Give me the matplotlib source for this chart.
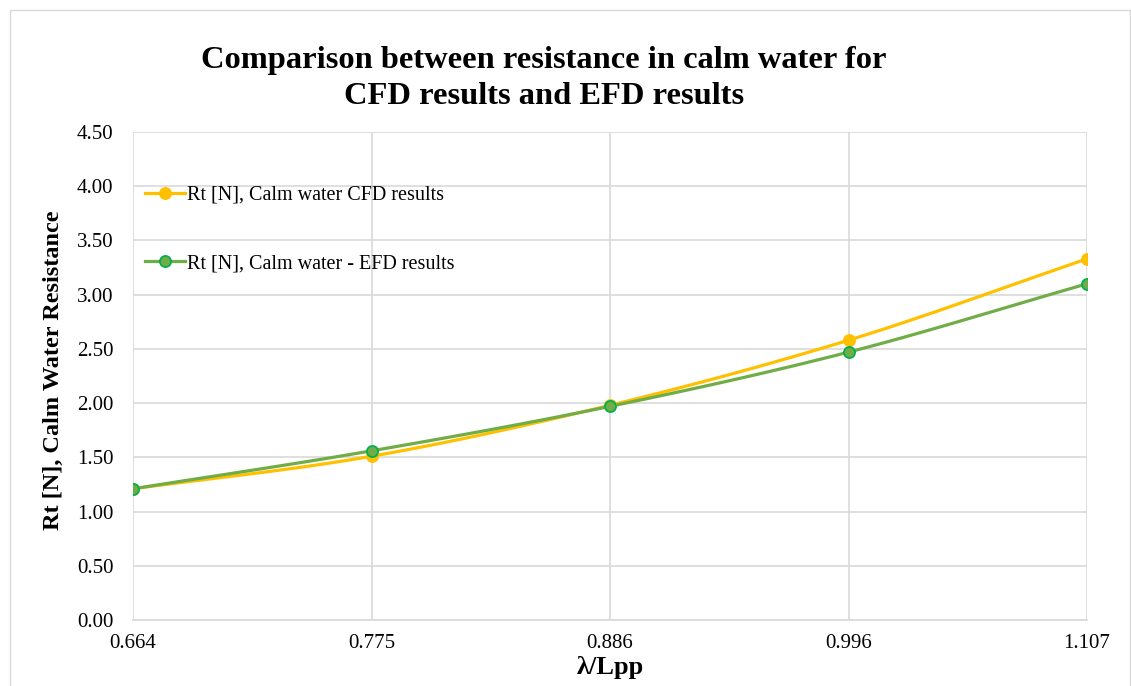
import numpy as np
import matplotlib
matplotlib.use("Agg")
import matplotlib.pyplot as plt

plt.rcParams["font.family"] = ["Liberation Serif", "DejaVu Serif"]

# data
categories = ["0.664", "0.775", "0.886", "0.996", "1.107"]
cfd = [1.21, 1.51, 1.98, 2.58, 3.33]
efd = [1.21, 1.56, 1.97, 2.47, 3.10]


def smooth(xs, ys, n=30, t=0.5):
    # Excel-like smoothed line: Catmull-Rom through the data points
    xs = np.asarray(xs, float); ys = np.asarray(ys, float)
    px = np.concatenate([[2 * xs[0] - xs[1]], xs, [2 * xs[-1] - xs[-2]]])
    py = np.concatenate([[2 * ys[0] - ys[1]], ys, [2 * ys[-1] - ys[-2]]])
    ox, oy = [], []
    s = np.linspace(0, 1, n)
    for i in range(1, len(px) - 2):
        for p, o in ((px, ox), (py, oy)):
            p0, p1, p2, p3 = p[i - 1], p[i], p[i + 1], p[i + 2]
            m1 = t * (p2 - p0); m2 = t * (p3 - p1)
            h00 = 2 * s**3 - 3 * s**2 + 1; h10 = s**3 - 2 * s**2 + s
            h01 = -2 * s**3 + 3 * s**2; h11 = s**3 - s**2
            o.extend(h00 * p1 + h10 * m1 + h01 * p2 + h11 * m2)
    return ox, oy


fig = plt.figure(figsize=(11.31, 6.86), dpi=100)
ax = fig.add_axes([0.1176, 0.0962, 0.8435, 0.7114])
x = np.arange(len(categories))

for ys, col, face, edge, lab in [
    (cfd, "#FFC000", "#FFC000", "#FFC000", "Rt [N], Calm water CFD results"),
    (efd, "#70AD47", "#70AD47", "#00B050", "Rt [N], Calm water - EFD results"),
]:
    sx, sy = smooth(x, ys)
    ax.plot(sx, sy, color=col, lw=2.3, zorder=3)
    ax.plot(x, ys, ls="none", marker="o", ms=8, mfc=face, mec=edge, mew=1.3, zorder=4)
    ax.plot([], [], color=col, lw=2.3, marker="o", ms=8, mfc=face, mec=edge, mew=1.3, label=lab)

ax.set_xlim(0, len(categories) - 1)
ax.set_ylim(0, 4.5)
ax.set_xticks(x)
ax.set_xticklabels(categories)
ax.set_yticks(np.arange(0, 4.51, 0.5))
ax.set_yticklabels([f"{v:.2f}" for v in np.arange(0, 4.51, 0.5)])
ax.tick_params(length=0, labelsize=15)
ax.tick_params(axis="x", pad=10)
ax.tick_params(axis="y", pad=14)
ax.grid(True, color="#d9d9d9", lw=1.2)
ax.set_axisbelow(True)
for side in ["top", "right", "left"]:
    ax.spines[side].set_visible(False)
ax.spines["bottom"].set_color("#d9d9d9")
ax.spines["bottom"].set_linewidth(1.2)

ax.set_xlabel("λ/Lpp", fontsize=19, fontweight="bold", labelpad=2)
ax.set_ylabel("Rt [N], Calm Water Resistance", fontsize=17.5, fontweight="bold", labelpad=6)
ax.yaxis.set_label_coords(-0.072, 0.512)
fig.text(0.481, 0.8856, "Comparison between resistance in calm water for\nCFD results and EFD results",
         ha="center", va="center", fontsize=23.4, fontweight="bold", linespacing=1.35)

ax.legend(loc="upper left", bbox_to_anchor=(0.0, 0.915), frameon=False, fontsize=14.5,
          labelspacing=2.45, handlelength=2.0, handletextpad=0.1, borderaxespad=0.2)

# chart area border
fig.patches.append(plt.Rectangle((0.009, -0.01), 0.99, 0.996, transform=fig.transFigure,
                                 fill=False, edgecolor="#d9d9d9", lw=1))

fig.savefig("out.png", dpi=100)
